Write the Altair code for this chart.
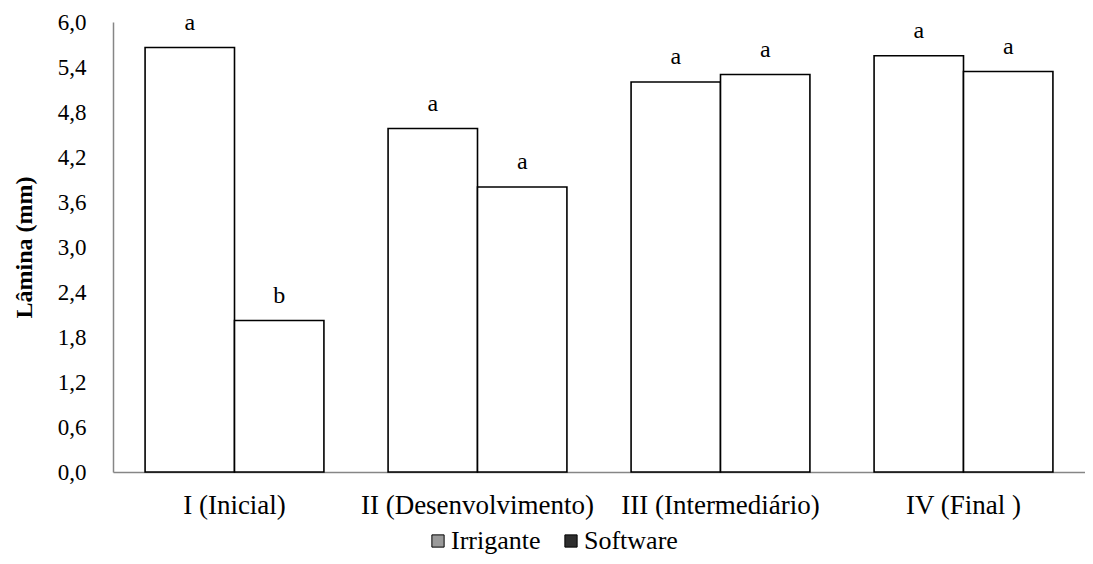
import altair as alt
import pandas as pd

categories = ["I (Inicial)", "II (Desenvolvimento)", "III (Intermediário)", "IV (Final )"]
series = ["Irrigante", "Software"]
irrigante = [5.66, 4.58, 5.20, 5.55]
software = [2.02, 3.80, 5.30, 5.34]
letters_irrigante = ["a", "a", "a", "a"]
letters_software = ["b", "a", "a", "a"]
y_ticks = [0.0, 0.6, 1.2, 1.8, 2.4, 3.0, 3.6, 4.2, 4.8, 5.4, 6.0]

rows = []
for i, c in enumerate(categories):
    rows.append({"fase": c, "serie": series[0], "valor": irrigante[i], "letra": letters_irrigante[i]})
    rows.append({"fase": c, "serie": series[1], "valor": software[i], "letra": letters_software[i]})
df = pd.DataFrame(rows)

FONT = "Liberation Serif"

x_enc = alt.X("fase:N", sort=categories, title=None,
              scale=alt.Scale(paddingInner=0.264, paddingOuter=0.132),
              axis=alt.Axis(labelAngle=0, ticks=False, labelPadding=20, labelLimit=500,
                            domainColor="#868686", domainWidth=1.5,
                            labelFont=FONT, labelFontSize=27, labelColor="black"))
xo_enc = alt.XOffset("serie:N", sort=series, scale=alt.Scale(paddingInner=0, paddingOuter=0))
y_enc = alt.Y("valor:Q", title="Lâmina (mm)",
              scale=alt.Scale(domain=[0, 6], nice=False),
              axis=alt.Axis(values=y_ticks, grid=False, ticks=False,
                            labelExpr="replace(format(datum.value, '.1f'), '.', ',')",
                            labelFont=FONT, labelFontSize=23, labelColor="black",
                            labelPadding=27, domainColor="#868686", domainWidth=1.5,
                            titleFont=FONT, titleFontSize=24, titleFontWeight="bold",
                            titleColor="black", titlePadding=21))

bars = alt.Chart(df).mark_bar(fill="white", stroke="black", strokeWidth=1.6).encode(
    x=x_enc, xOffset=xo_enc, y=y_enc
)

text = alt.Chart(df).mark_text(font=FONT, fontSize=24, color="black",
                               baseline="alphabetic", dy=-18).encode(
    x=x_enc, xOffset=xo_enc, y=y_enc, text="letra:N"
)

legend_layer = alt.Chart(df).mark_square(opacity=0).encode(
    x=x_enc, xOffset=xo_enc, y=y_enc,
    color=alt.Color("serie:N", sort=series,
                    scale=alt.Scale(domain=series, range=["#9a9a9a", "#2e2e2e"]),
                    legend=alt.Legend(title=None, orient="none", direction="horizontal",
                                      legendX=312, legendY=506,
                                      symbolType="square", symbolSize=150,
                                      symbolOpacity=1, symbolStrokeColor="black",
                                      symbolStrokeWidth=1,
                                      labelFont=FONT, labelFontSize=26, labelColor="black",
                                      labelOffset=0, columnPadding=17))
)

chart = alt.layer(bars, text, legend_layer).properties(
    width=972, height=450,
    autosize="none",
    padding={"left": 105, "top": 14, "right": 0, "bottom": 84},
    background="white"
).configure_view(stroke=None)

chart.save("out.html", embed_options={"renderer": "svg", "actions": False})
